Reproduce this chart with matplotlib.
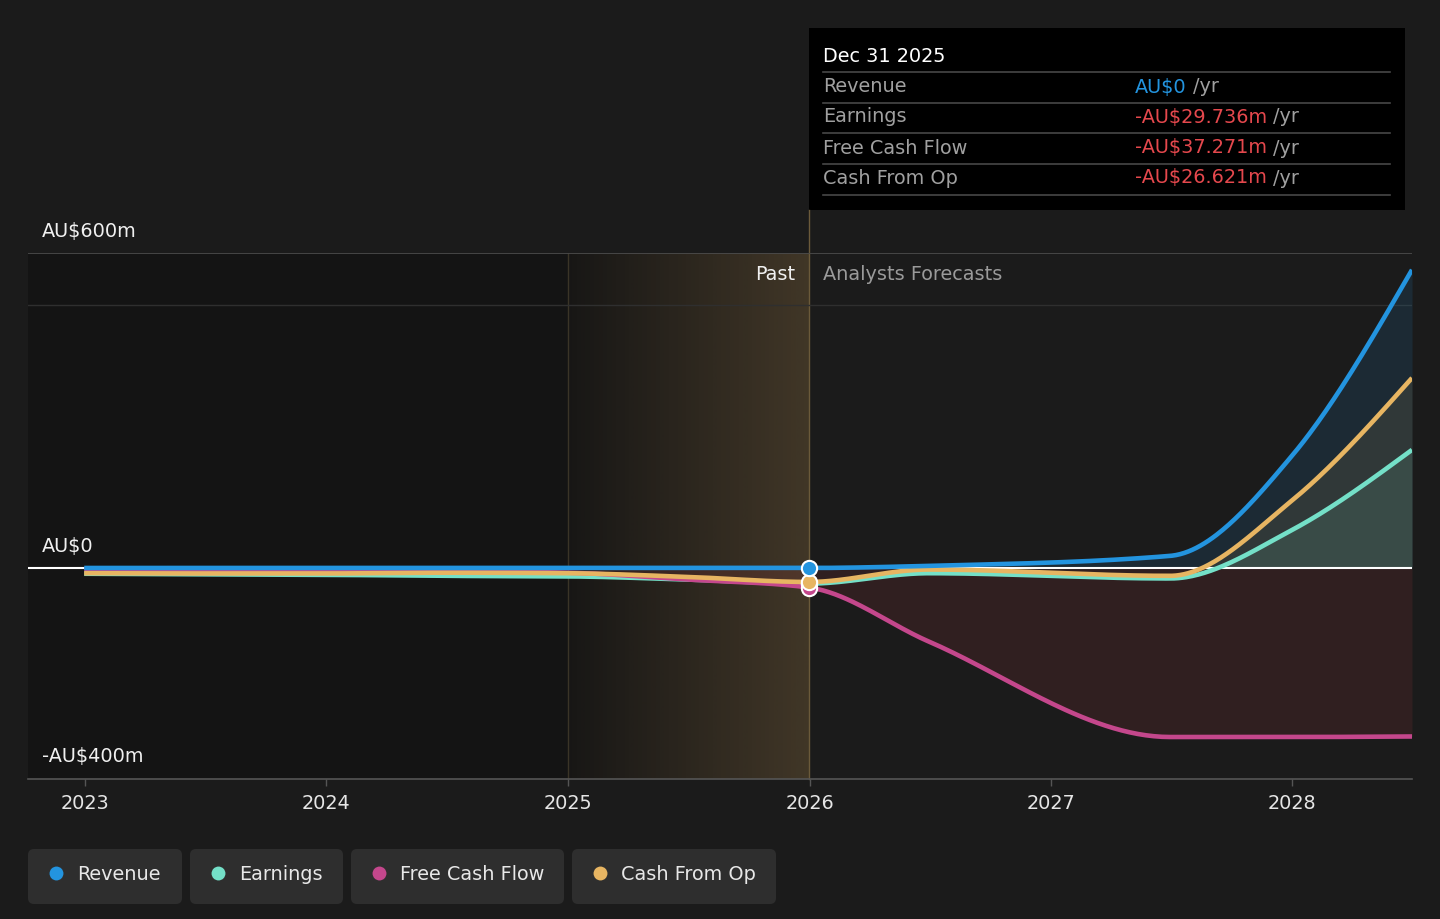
"""Revenue, earnings and cash flow history with analyst forecasts (AU$ m).
Writes out.png.
"""
import numpy as np
import pandas as pd
import matplotlib
matplotlib.use('Agg')
import matplotlib.pyplot as plt
import matplotlib.dates as mdates
from matplotlib.patches import FancyBboxPatch, Rectangle

# ---- data (AU$ millions) ----
dates = ['2022-12-31', '2023-06-30', '2023-12-31', '2024-06-30', '2024-12-31',
         '2025-06-30', '2025-12-31',
         '2026-06-30', '2027-06-30', '2027-12-31', '2028-06-30']
revenue = [0, 0, 0, 0, 0, 0, 0, 4, 23, 213, 568]
earnings = [-11, -12, -13, -15, -16, -22, -29.736, -10, -20, 72, 225]
free_cash_flow = [-3, -4, -5, -6, -9, -22, -37.271, -140, -322, -322, -321]
cash_from_op = [-10, -10.5, -10.5, -9, -10, -17, -26.621, -3, -15, 128, 362]

series_names = ['Revenue', 'Earnings', 'Free Cash Flow', 'Cash From Op']
series_colors = ['#2394df', '#74e0c8', '#c4478c', '#e7b562']

years = [2023, 2024, 2025, 2026, 2027, 2028]
y_labels = {600: 'AU$600m', 0: 'AU$0', -400: '-AU$400m'}

tooltip_date = 'Dec 31 2025'
tooltip_values = ['AU$0', '-AU$29.736m', '-AU$37.271m', '-AU$26.621m']

W, H = 1440, 919
BG = '#1b1b1b'
FS = 13.9


def monotone(x, y, n=60):
    """Monotone cubic (same rule as d3 curveMonotoneX), sampled densely."""
    x = np.asarray(x, float)
    y = np.asarray(y, float)
    h = np.diff(x)
    s = np.diff(y) / h
    t = np.zeros(len(x))
    sg = lambda v: -1.0 if v < 0 else 1.0
    for i in range(1, len(x) - 1):
        p = (s[i - 1] * h[i] + s[i] * h[i - 1]) / (h[i - 1] + h[i])
        t[i] = (sg(s[i - 1]) + sg(s[i])) * min(abs(s[i - 1]), abs(s[i]), 0.5 * abs(p))
    t[0] = (3 * s[0] - t[1]) / 2
    t[-1] = (3 * s[-1] - t[-2]) / 2
    xs, ys = [], []
    for i in range(len(x) - 1):
        u = np.linspace(0, 1, n, endpoint=False)
        h00 = 2 * u**3 - 3 * u**2 + 1
        h10 = u**3 - 2 * u**2 + u
        h01 = -2 * u**3 + 3 * u**2
        h11 = u**3 - u**2
        xs.append(x[i] + u * h[i])
        ys.append(h00 * y[i] + h10 * h[i] * t[i] + h01 * y[i + 1] + h11 * h[i] * t[i + 1])
    xs.append([x[-1]])
    ys.append([y[-1]])
    return np.concatenate(xs), np.concatenate(ys)


def main():
    x = mdates.date2num(pd.to_datetime(dates))
    now = mdates.date2num(pd.Timestamp('2025-12-31'))
    start_2025 = mdates.date2num(pd.Timestamp('2025-01-01'))
    xmin = mdates.date2num(pd.Timestamp('2022-10-07'))
    xmax = mdates.date2num(pd.Timestamp('2028-06-30'))
    ymin, ymax = -402, 600

    fig = plt.figure(figsize=(W / 100, H / 100), dpi=100, facecolor=BG)

    # overlay in pixel coordinates for tooltip / legend
    ov = fig.add_axes([0, 0, 1, 1])
    ov.set_xlim(0, W)
    ov.set_ylim(H, 0)
    ov.axis('off')
    ov.set_zorder(0)

    ax = fig.add_axes([28 / W, (H - 779) / H, (1412 - 28) / W, (779 - 253) / H])
    ax.set_zorder(1)
    ax.patch.set_alpha(0)

    # past shading
    ax.axvspan(xmin, now, color='#141414', lw=0, zorder=0)
    grad = np.zeros((1, 256, 4))
    grad[..., :3] = matplotlib.colors.to_rgb('#d4a866')
    grad[..., 3] = np.linspace(0.02, 0.235, 256)
    ax.imshow(grad, extent=[start_2025, now, ymin, ymax], aspect='auto',
              interpolation='bilinear', zorder=0.5)
    ax.plot([start_2025, start_2025], [ymin, ymax], color='#3a3427', lw=1, zorder=0.6)
    ax.plot([now, now], [ymin, 682], color='#6b5a3a', lw=1, zorder=0.6, clip_on=False)

    # grid lines
    ax.axhline(600, color='#4a4a4a', lw=1.3, zorder=0.7)
    ax.axhline(500, color='#2f2f2f', lw=1.0, zorder=0.7)

    values = [revenue, earnings, free_cash_flow, cash_from_op]
    curves = [monotone(x, v) for v in values]

    # fills
    pos_alpha = [0.13, 0.12, 0.0, 0.10]
    for (xs, ys), c, a in zip(curves, series_colors, pos_alpha):
        if a > 0:
            ax.fill_between(xs, ys, 0, where=ys > 0, interpolate=True,
                            color=c, alpha=a, lw=0, zorder=1)
    xs, ys = curves[2]
    ax.fill_between(xs, ys, 0, where=ys < 0, interpolate=True,
                    color='#e0464e', alpha=0.11, lw=0, zorder=1)

    ax.axhline(0, color='white', lw=1.5, zorder=2)

    # lines: earnings under fcf under cfo, revenue on top
    line_z = [6, 3, 4, 5]
    for (xs, ys), c, z in zip(curves, series_colors, line_z):
        ax.plot(xs, ys, color=c, lw=3.3, solid_capstyle='butt', zorder=z)

    # markers at the latest reported point
    i_now = dates.index('2025-12-31')
    for k in [1, 2, 3, 0]:
        ax.plot(now, values[k][i_now], 'o', ms=11, color=series_colors[k],
                mec='white', mew=1.5, zorder=8 + k if k else 12, clip_on=False)

    ax.set_xlim(xmin, xmax)
    ax.set_ylim(ymin, ymax)

    # axes styling
    for side in ['top', 'right', 'left']:
        ax.spines[side].set_visible(False)
    ax.spines['bottom'].set_color('#555555')
    ax.spines['bottom'].set_linewidth(1.2)
    ticks = mdates.date2num(pd.to_datetime([f'{y}-01-01' for y in years]))
    ax.set_xticks(ticks, [str(y) for y in years])
    ax.tick_params(axis='x', colors='#555555', labelcolor='#e6e6e6', length=5,
                   width=1, pad=5.5, labelsize=FS)
    ax.tick_params(axis='y', left=False, labelleft=False)

    for v, lab in y_labels.items():
        ax.annotate(lab, xy=(0, v), xycoords=('axes fraction', 'data'),
                    xytext=(14, 21), textcoords='offset pixels',
                    ha='left', va='center', color='#f0f0f0', fontsize=FS)

    ax.annotate('Past', xy=(now, 560), xytext=(-14, -1), textcoords='offset pixels',
                ha='right', va='center', color='#f0f0f0', fontsize=FS)
    ax.annotate('Analysts Forecasts', xy=(now, 560), xytext=(14, -1),
                textcoords='offset pixels', ha='left', va='center',
                color='#9a9a9a', fontsize=FS)

    # tooltip
    ov.add_patch(Rectangle((809, 28), 596, 182, color='black', lw=0))
    ov.text(823, 56, tooltip_date, color='white', fontsize=FS, va='center')
    for yy in [72, 103, 133, 164, 195]:
        ov.plot([823, 1390], [yy, yy], color='#474747', lw=1.2)
    renderer = fig.canvas.get_renderer()
    row_y = [87, 117, 148, 178]
    for name, val, yy in zip(series_names, tooltip_values, row_y):
        ov.text(823, yy, name, color='#a0a0a0', fontsize=FS, va='center')
        vcol = series_colors[0] if not val.startswith('-') else '#e5484d'
        t = ov.text(1135, yy, val, color=vcol, fontsize=FS, va='center')
        bb = t.get_window_extent(renderer=renderer)
        ov.text(bb.x1 + 6, yy, '/yr', color='#a0a0a0', fontsize=FS, va='center')

    # legend pills
    pills = [(28, 182), (190, 343), (351, 564), (572, 776)]
    for (x0, x1), name, c in zip(pills, series_names, series_colors):
        ov.add_patch(FancyBboxPatch((x0, 849), x1 - x0, 55,
                                    boxstyle='round,pad=0,rounding_size=6',
                                    fc='#2e2e2e', ec='none'))
        ov.plot(x0 + 28, 873, 'o', ms=10, color=c, mec='none')
        ov.text(x0 + 49, 874, name, color='#e8e8e8', fontsize=FS, va='center')

    fig.savefig('out.png', dpi=100, facecolor=BG)


if __name__ == '__main__':
    main()
